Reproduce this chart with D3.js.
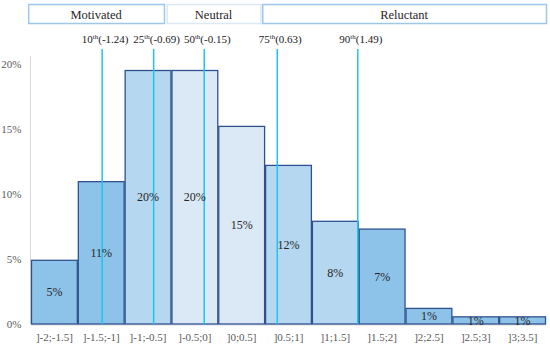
<!DOCTYPE html>
<html>
<head>
<meta charset="utf-8">
<script src="https://cdn.jsdelivr.net/npm/d3@7"></script>
<style>
  body { margin: 0; background: #fff; }
  svg { font-family: "Liberation Serif", "DejaVu Serif", serif; }
  .tick text { fill: #595959; font-size: 11px; font-family: "Liberation Serif", serif; }
  .barlabel { fill: #262626; font-size: 12px; }
  .plabel { fill: #1a1a1a; font-size: 11px; }
  .zone { fill: #262626; font-size: 12.5px; }
</style>
</head>
<body>
<svg width="550" height="350"></svg>
<script>
let bins = [']-2;-1.5]', ']-1.5;-1]', ']-1;-0.5]', ']-0.5;0]', ']0;0.5]', ']0.5;1]',
  ']1;1.5]', ']1.5;2]', ']2;2.5]', ']2.5;3]', ']3;3.5]']
let shares = [4.9, 10.95, 19.5, 19.5, 15.2, 12.2, 7.9, 7.3, 1.2, 0.55, 0.55]
let shareLabels = ['5%', '11%', '20%', '20%', '15%', '12%', '8%', '7%', '1%', '1%', '1%']
// which band of the distribution each bin sits in
let binZone = ['tail', 'tail', 'inner', 'core', 'core', 'inner', 'inner', 'tail', 'tail', 'tail', 'tail']

let pctNames = ['10', '25', '50', '75', '90']
let pctValues = [-1.24, -0.69, -0.15, 0.63, 1.49]

let zoneNames = ['Motivated', 'Neutral', 'Reluctant']
let zoneFrom = [-2.03, -0.55, 0.47]
let zoneTo = [-0.58, 0.45, 3.5]

let yTicks = [0, 5, 10, 15, 20]

const svg = d3.select('svg')

const x = d3.scaleLinear().domain([-2, 3.5]).range([31, 546])
const xBand = d3.scaleBand().domain(bins).range([31, 546]).padding(0)
const y = d3.scaleLinear().domain([0, 20]).range([324, 64])

const fill = d3.scaleOrdinal()
  .domain(['tail', 'inner', 'core'])
  .range(['#8ec3e9', '#b5d7ef', '#dbe9f6'])

// y axis
const yAxis = d3.axisLeft(y).tickValues(yTicks).tickFormat(d => d + '%').tickSize(0).tickPadding(9)
const yg = svg.append('g').attr('transform', 'translate(30.5,0)').call(yAxis)
  .attr('font-family', null).attr('font-size', null)
yg.select('.domain').attr('stroke', '#d9d9d9').attr('d', 'M0,' + y(20.6) + 'V' + y(0))

// x axis
const xAxis = d3.axisBottom(xBand).tickSize(0).tickPadding(9)
const xg = svg.append('g').attr('transform', 'translate(0,324.5)').call(xAxis)
  .attr('font-family', null).attr('font-size', null)
xg.select('.domain').attr('stroke', '#d9d9d9')

// bars
svg.append('g')
  .selectAll('rect')
  .data(shares)
  .enter()
  .append('rect')
  .attr('x', (d, i) => xBand(bins[i]) + 0.5)
  .attr('y', d => y(d))
  .attr('width', xBand.bandwidth() - 1)
  .attr('height', d => y(0) - y(d))
  .attr('fill', (d, i) => fill(binZone[i]))
  .attr('stroke', '#2f528f')
  .attr('stroke-width', 1.3)

// percentile lines
svg.append('g')
  .selectAll('line')
  .data(pctValues)
  .enter()
  .append('line')
  .attr('x1', d => x(d))
  .attr('x2', d => x(d))
  .attr('y1', 49)
  .attr('y2', y(0))
  .attr('stroke', '#1ec4f2')
  .attr('stroke-width', 1.5)

// bar labels
svg.append('g')
  .selectAll('text')
  .data(shares)
  .enter()
  .append('text')
  .attr('class', 'barlabel')
  .attr('x', (d, i) => xBand(bins[i]) + xBand.bandwidth() / 2)
  .attr('y', d => (y(d) + y(0)) / 2)
  .attr('dy', '0.35em')
  .attr('text-anchor', 'middle')
  .text((d, i) => shareLabels[i])

// percentile labels
const pl = svg.append('g')
  .selectAll('text')
  .data(pctValues)
  .enter()
  .append('text')
  .attr('class', 'plabel')
  .attr('x', d => x(d) + 3)
  .attr('y', 43)
  .attr('text-anchor', 'middle')
pl.append('tspan').text((d, i) => pctNames[i])
pl.append('tspan').attr('font-size', 7).attr('dy', -4).text('th')
pl.append('tspan').attr('dy', 4).text(d => '(' + d + ')')

// zone boxes
const zg = svg.append('g')
  .selectAll('g')
  .data(zoneNames)
  .enter()
  .append('g')

zg.append('rect')
  .attr('x', (d, i) => x(zoneFrom[i]) + 0.5)
  .attr('y', 4.5)
  .attr('width', (d, i) => x(zoneTo[i]) - x(zoneFrom[i]))
  .attr('height', 19)
  .attr('fill', '#fff')
  .attr('stroke', (d, i) => i == 1 ? '#dbe9f6' : '#9dc8ec')
  .attr('stroke-width', 1.5)

zg.append('text')
  .attr('class', 'zone')
  .attr('x', (d, i) => (x(zoneFrom[i]) + x(zoneTo[i])) / 2)
  .attr('y', 14.5)
  .attr('dy', '0.35em')
  .attr('text-anchor', 'middle')
  .text(d => d)
</script>
</body>
</html>
